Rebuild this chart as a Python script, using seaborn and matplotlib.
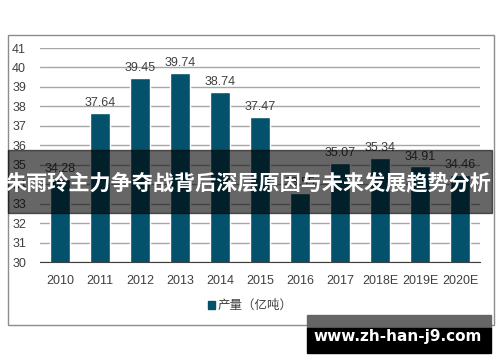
import numpy as np
import pandas as pd
import seaborn as sns
import matplotlib.pyplot as plt
from matplotlib.patches import Rectangle, Patch

years = ['2010', '2011', '2012', '2013', '2014', '2015', '2016', '2017', '2018E', '2019E', '2020E']
output = [34.28, 37.64, 39.45, 39.74, 38.74, 37.47, 33.55, 35.07, 35.34, 34.91, 34.46]
series_name = '产量（亿吨）'
title = '朱雨玲主力争夺战背后深层原因与未来发展趋势分析'
watermark = 'www.zh-han-j9.com'

sns.set_style('white')
plt.rcParams['font.family'] = ['Liberation Sans', 'Noto Sans CJK SC', 'DejaVu Sans']

df = pd.DataFrame({'year': years, 'value': output})
bar_color = '#03516b'
txt_color = '#404040'

fig = plt.figure(figsize=(5, 3.62), dpi=100)

# outer frame of the chart
fig.patches.append(Rectangle((0.016, 0.102), 0.972, 0.801, transform=fig.transFigure,
                             fill=False, edgecolor='#8c8c8c', linewidth=1))

ax = fig.add_axes([0.08, 0.2762, 0.88, 0.5912])
sns.barplot(data=df, x='year', y='value', color=bar_color, width=0.5,
            saturation=1, ax=ax)
ax.set_ylim(30, 41)
ax.set_xlim(-0.5, 10.5)
ax.set_yticks(range(30, 42))
ax.yaxis.grid(True, color='#a6a6a6', linewidth=1)
ax.set_axisbelow(True)
for s in ['top', 'right', 'left']:
    ax.spines[s].set_visible(False)
ax.spines['bottom'].set_color('#404040')
ax.set_xlabel('')
ax.set_ylabel('')
ax.tick_params(axis='both', length=0, labelsize=9, colors=txt_color)
ax.tick_params(axis='x', pad=9)
ax.tick_params(axis='y', pad=10)

for i, v in enumerate(output):
    ax.text(i, v + 0.2, f'{v:.2f}', ha='center', va='bottom', fontsize=9, color=txt_color)

fig.legend(handles=[Patch(color=bar_color, label=series_name)], loc='center',
           bbox_to_anchor=(0.5, 0.155), frameon=False, fontsize=9,
           handlelength=0.6, handleheight=0.6, handletextpad=0.2, labelcolor=txt_color)

# title banner over the chart
fig.patches.append(Rectangle((0.016, 1 - 213 / 362), 0.968, 63 / 362, transform=fig.transFigure,
                             color='black', alpha=0.6, zorder=10))
fig.text(0.497, 1 - 183 / 362, title, ha='center', va='center', color='white',
         fontsize=15.2, fontweight='bold', family=['Noto Sans CJK SC', 'DejaVu Sans'], zorder=11)

# watermark box
fig.patches.append(Rectangle((307 / 500, 1 - 328 / 362), 184 / 500, 13 / 362, transform=fig.transFigure,
                             color='#666666', zorder=10))
fig.patches.append(Rectangle((307 / 500, 1 - 353 / 362), 184 / 500, 25 / 362, transform=fig.transFigure,
                             color='black', zorder=10))
fig.text(398 / 500, 1 - 337 / 362, watermark, ha='center', va='center', color='white',
         fontsize=11, fontweight='bold', family='DejaVu Sans', zorder=11)

fig.savefig('out.png', dpi=100)
